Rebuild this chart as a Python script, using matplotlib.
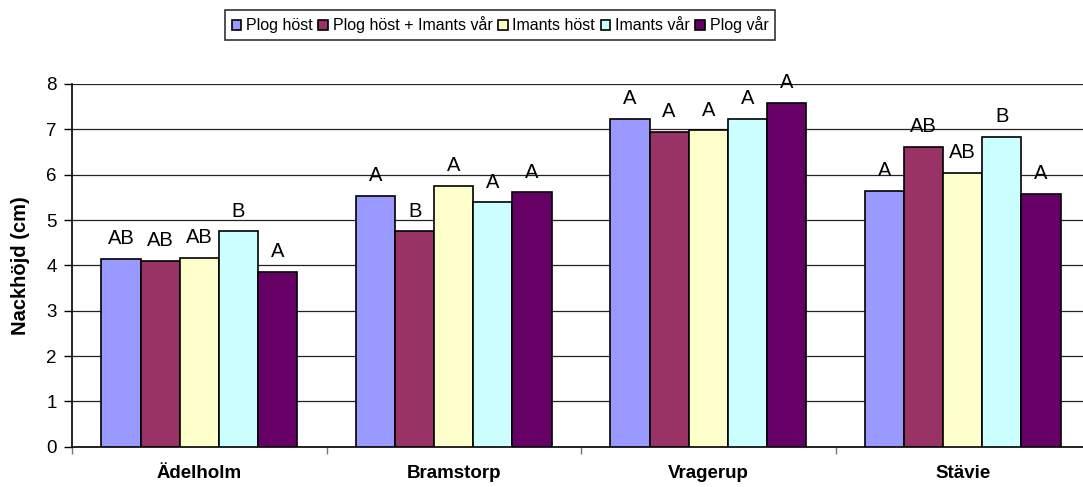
import numpy as np
import matplotlib
matplotlib.use("Agg")
import matplotlib.pyplot as plt

plt.rcParams['font.family'] = ['Liberation Sans', 'DejaVu Sans']

# data
platser = ["Ädelholm", "Bramstorp", "Vragerup", "Stävie"]
serier = ["Plog höst", "Plog höst + Imants vår", "Imants höst", "Imants vår", "Plog vår"]
plog_host = [4.14, 5.54, 7.23, 5.64]
plog_host_imants_var = [4.10, 4.75, 6.94, 6.62]
imants_host = [4.17, 5.75, 6.98, 6.04]
imants_var = [4.75, 5.39, 7.23, 6.83]
plog_var = [3.86, 5.61, 7.59, 5.58]
bokstaver = [
    ["AB", "A", "A", "A"],
    ["AB", "B", "A", "AB"],
    ["AB", "A", "A", "AB"],
    ["B", "A", "A", "B"],
    ["A", "A", "A", "A"],
]
farger = ["#9999FF", "#993366", "#FFFFCC", "#CCFFFF", "#660066"]

varden = [plog_host, plog_host_imants_var, imants_host, imants_var, plog_var]

fig = plt.figure(figsize=(10.83, 4.87), dpi=100)
ax = fig.add_axes([72/1083, 1 - 446.7/487, 1018/1083, (446.7 - 84)/487])

x = np.arange(len(platser))
w = 1 / 6.5
for i, (namn, v, f) in enumerate(zip(serier, varden, farger)):
    pos = x + (i - 2) * w
    ax.bar(pos, v, width=w, color=f, edgecolor="black", linewidth=1.2,
           label=namn, zorder=3)
    for xp, yp, b in zip(pos, v, bokstaver[i]):
        ax.annotate(b, (xp, yp), xytext=(0, 14.5), textcoords="offset points",
                    ha="center", va="center", fontsize=14.5, zorder=4)

ax.set_xlim(-0.5, 3.5)
ax.set_ylim(0, 8)
ax.set_yticks(range(0, 9))
ax.tick_params(axis="y", labelsize=13.5, length=6, width=1, direction="out", pad=5)
ax.yaxis.grid(True, color="#222222", linewidth=0.9, zorder=0)

# kategorigränser som tickmarkeringar, namnen i mitten
ax.set_xticks(np.arange(-0.5, 4, 1))
ax.set_xticklabels([])
ax.tick_params(axis="x", which="major", length=5, width=1, color="#777777")
ax.set_xticks(x, minor=True)
ax.set_xticklabels(platser, minor=True, fontsize=13.5, fontweight="bold")
ax.tick_params(axis="x", which="minor", length=0, pad=13)

for s in ["top", "right"]:
    ax.spines[s].set_visible(False)
ax.spines["left"].set_linewidth(1.2)
ax.spines["bottom"].set_linewidth(1.2)

ax.set_ylabel("Nackhöjd (cm)", fontsize=14.5, fontweight="bold", labelpad=12)

leg = fig.legend(loc="center", bbox_to_anchor=(500/1083, 1 - 25/487), ncol=5,
                 fontsize=11.5, frameon=True, fancybox=False, edgecolor="black",
                 handlelength=0.6, handleheight=0.6, handletextpad=0.3,
                 columnspacing=0.35, borderpad=0.4, borderaxespad=0)
leg.get_frame().set_linewidth(1.2)

fig.savefig("out.png", dpi=100)
